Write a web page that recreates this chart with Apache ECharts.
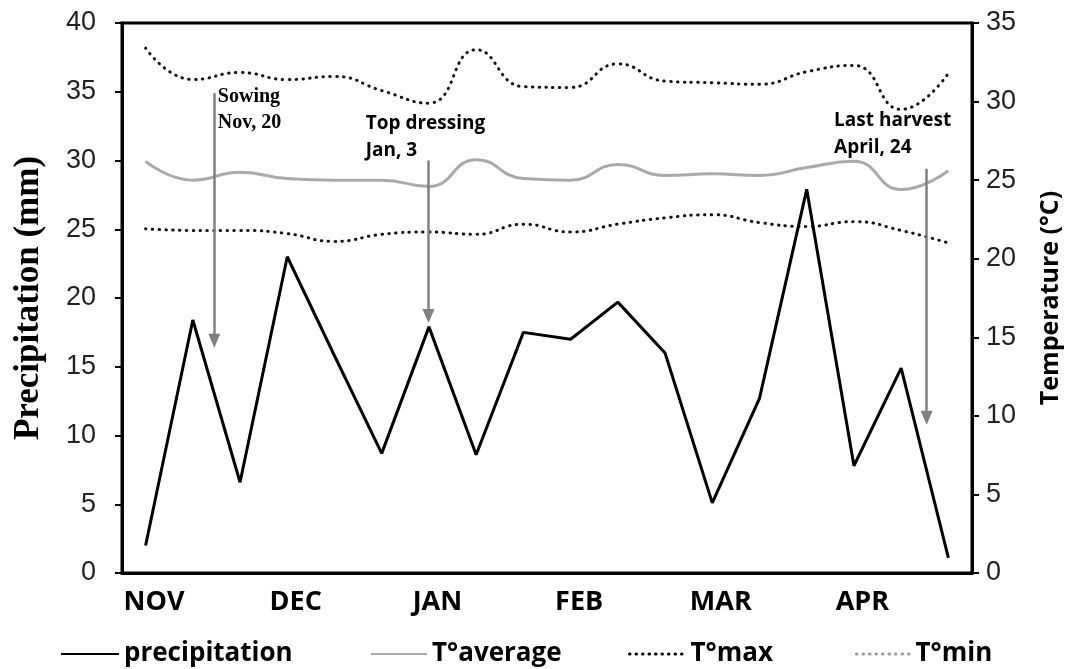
<!DOCTYPE html>
<html>
<head>
<meta charset="utf-8">
<script src="https://cdn.jsdelivr.net/npm/echarts@6/dist/echarts.min.js"></script>
<style>
html,body{margin:0;padding:0;background:#fff;}
#chart{width:1077px;height:669px;}
</style>
</head>
<body>
<div id="chart"></div>
<script>
// ---- data ----
var dekads = ['NOV-1','NOV-2','NOV-3','DEC-1','DEC-2','DEC-3','JAN-1','JAN-2','JAN-3',
              'FEB-1','FEB-2','FEB-3','MAR-1','MAR-2','MAR-3','APR-1','APR-2','APR-3'];
var monthLabels = ['NOV','DEC','JAN','FEB','MAR','APR'];
var precipitation = [2.0, 18.4, 6.6, 23.0, 15.8, 8.7, 17.9, 8.6, 17.5, 17.0, 19.7, 16.0, 5.1, 12.7, 27.9, 7.8, 14.9, 1.1];
var tAverage = [26.2, 25.0, 25.5, 25.1, 25.0, 25.0, 24.6, 26.3, 25.1, 25.0, 26.0, 25.3, 25.4, 25.3, 25.8, 26.2, 24.4, 25.6];
var tMax = [33.4, 31.4, 31.85, 31.4, 31.6, 30.7, 29.9, 33.3, 30.95, 30.9, 32.4, 31.3, 31.2, 31.1, 31.9, 32.3, 29.5, 31.8];
var tMin = [21.9, 21.8, 21.8, 21.6, 21.1, 21.55, 21.7, 21.55, 22.2, 21.7, 22.2, 22.6, 22.8, 22.3, 22.05, 22.36, 21.8, 21.0];
var leftTicks = {min: 0, max: 40, interval: 5};
var rightTicks = {min: 0, max: 35, interval: 5};
// events: position in dekad-index units, arrow top / tip (mm), text anchor (mm)
var eventNames = ['Sowing\nNov, 20', 'Top dressing\nJan, 3', 'Last harvest\nApril, 24'];
var eventX = [1.455, 5.99, 16.54];
var eventTop = [34.9, 30.0, 29.4];
var eventTip = [16.4, 18.2, 10.8];
var eventTextX = [1.53, 4.66, 14.58];
var eventTextY = [33.7, 31.7, 31.9];

var chart = echarts.init(document.getElementById('chart'), null, {renderer: 'canvas'});

var arrowData = eventX.map(function (x, i) {
  return [{coord: [x, eventTop[i]]}, {coord: [x, eventTip[i] + 0.5]}];
});
var textData = eventNames.map(function (n, i) {
  return {value: [eventTextX[i], eventTextY[i]], name: n,
    label: {fontFamily: i === 0 ? 'Liberation Serif' : 'Open Sans',
            fontSize: i === 0 ? 20 : 19, lineHeight: i === 0 ? 26 : 27}};
});

var legendBase = {
  top: 636, itemHeight: 14, selectedMode: false,
  textStyle: {fontFamily: 'Open Sans', fontWeight: 'bold', fontSize: 26, color: '#000'}
};
function legendAt(left, w, item) {
  item.itemStyle = {opacity: 0};
  return Object.assign({}, legendBase, {left: left, itemWidth: w, data: [item]});
}

chart.setOption({
  backgroundColor: '#fff',
  animation: false,
  grid: {left: 122, right: 105, top: 23, bottom: 96, show: true, borderColor: '#000', borderWidth: 3, containLabel: false},
  legend: [
    legendAt(55, 58, {name: 'precipitation'}),
    legendAt(365, 56, {name: 'T°average'}),
    legendAt(623, 56, {name: 'T°max', lineStyle: {color: '#000', width: 3, type: [0.5, 6], cap: 'round'}}),
    legendAt(850, 54, {name: 'T°min', lineStyle: {color: '#999', width: 3, type: [0.5, 6], cap: 'round'}})
  ],
  xAxis: [{
    type: 'category', data: dekads, boundaryGap: true,
    axisLine: {lineStyle: {color: '#000', width: 3}},
    axisTick: {show: false},
    axisLabel: {
      interval: 0, margin: 16, padding: [0, 0, 0, 17],
      fontFamily: 'Open Sans', fontWeight: 'bold', fontSize: 27, color: '#000',
      formatter: function (v) {
        var p = v.split('-');
        return p[1] === '1' && monthLabels.indexOf(p[0]) >= 0 ? p[0] : '';
      }
    }
  }, {
    type: 'value', min: -0.5, max: 17.5, show: false
  }],
  yAxis: [{
    type: 'value', min: leftTicks.min, max: leftTicks.max, interval: leftTicks.interval,
    name: 'Precipitation (mm)', nameLocation: 'middle', nameGap: 76, nameRotate: 90,
    nameTextStyle: {fontFamily: 'Liberation Serif', fontWeight: 'bold', fontSize: 35, color: '#000'},
    axisLine: {show: true, onZero: false, lineStyle: {color: '#000', width: 3}},
    axisTick: {show: true, length: 7, lineStyle: {color: '#000', width: 2}},
    axisLabel: {margin: 26, fontFamily: 'Liberation Sans', fontSize: 27, color: '#222'},
    splitLine: {show: false}
  }, {
    type: 'value', min: rightTicks.min, max: rightTicks.max, interval: rightTicks.interval,
    position: 'right',
    name: 'Temperature (°C)', nameLocation: 'middle', nameGap: 66, nameRotate: 90,
    nameTextStyle: {fontFamily: 'Open Sans', fontWeight: 'bold', fontSize: 25, color: '#000'},
    axisLine: {show: true, onZero: false, lineStyle: {color: '#000', width: 3}},
    axisTick: {show: true, length: 7, lineStyle: {color: '#000', width: 2}},
    axisLabel: {margin: 14, fontFamily: 'Liberation Sans', fontSize: 27, color: '#222'},
    splitLine: {show: false}
  }],
  series: [{
    name: 'T°max', type: 'line', yAxisIndex: 1, data: tMax, smooth: 0.5, symbol: 'none',
    lineStyle: {color: '#111', width: 3, type: [0.5, 6.3], cap: 'round'}, itemStyle: {color: '#111'}
  }, {
    name: 'T°min', type: 'line', yAxisIndex: 1, data: tMin, smooth: 0.5, symbol: 'none',
    lineStyle: {color: '#111', width: 3, type: [0.5, 6.3], cap: 'round'}, itemStyle: {color: '#999'}
  }, {
    name: 'T°average', type: 'line', yAxisIndex: 1, data: tAverage, smooth: 0.5, symbol: 'none',
    lineStyle: {color: '#aaaaaa', width: 3}, itemStyle: {color: '#aaaaaa'}
  }, {
    name: 'precipitation', type: 'line', yAxisIndex: 0, data: precipitation, symbol: 'none',
    lineStyle: {color: '#000', width: 3}, itemStyle: {color: '#000'}
  }, {
    name: 'events', type: 'scatter', xAxisIndex: 1, yAxisIndex: 0, data: textData,
    symbolSize: 0, silent: true, itemStyle: {opacity: 1},
    label: {show: true, position: 'right', distance: 0, color: '#000', opacity: 1, fontWeight: 'bold',
      formatter: function (p) { return p.name; }},
    markLine: {
      silent: true, symbol: ['none', 'triangle'], symbolSize: [12, 14],
      label: {show: false},
      lineStyle: {color: '#808080', width: 2.5, type: 'solid', opacity: 1},
      data: arrowData
    }
  }]
});
</script>
</body>
</html>
